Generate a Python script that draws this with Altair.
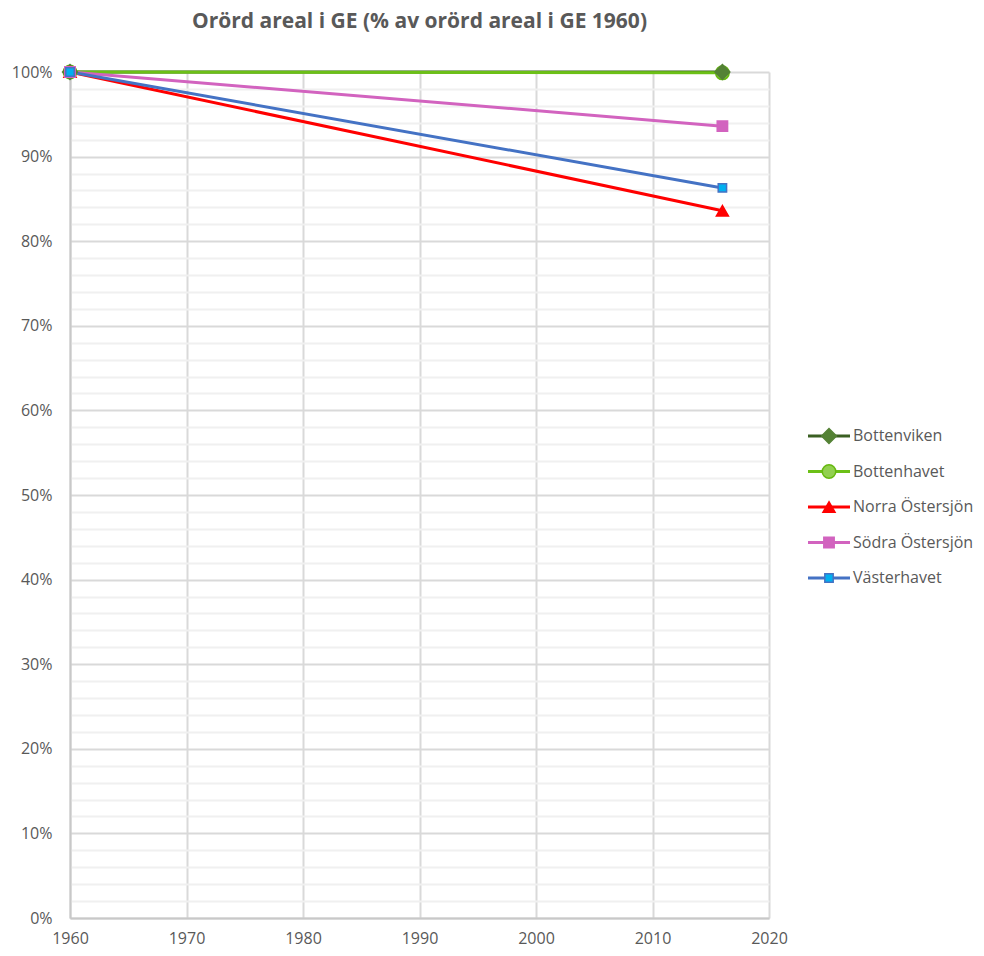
import altair as alt
import pandas as pd

years = [1960, 2016]
series_names = ["Bottenviken", "Bottenhavet", "Norra Östersjön", "Södra Östersjön", "Västerhavet"]
values = {
    "Bottenviken": [1.00, 1.00],
    "Bottenhavet": [1.00, 0.999],
    "Norra Östersjön": [1.00, 0.836],
    "Södra Östersjön": [1.00, 0.936],
    "Västerhavet": [1.00, 0.863],
}
line_colors = ["#3a5f22", "#6cc017", "#ff0000", "#d263bf", "#4472c4"]
fill_colors = ["#548235", "#92d050", "#ff0000", "#d263bf", "#00b0f0"]
stroke_colors = ["#548235", "#66b80f", "#ff0000", "#d263bf", "#4472c4"]
shapes = ["diamond", "circle", "triangle-up", "square", "square"]
sizes = [220, 70, 220, 160, 150]
legend_sizes = [75, 80, 90, 120, 110]
point_draw_order = [2, 1, 3, 4, 5]

x_ticks = [1960, 1970, 1980, 1990, 2000, 2010, 2020]
y_ticks = [i / 50 for i in range(51)]

rows = []
for i, name in enumerate(series_names):
    for yr, v in zip(years, values[name]):
        rows.append({"series": name, "year": yr, "value": v, "ord": point_draw_order[i]})
df = pd.DataFrame(rows)
leg = pd.DataFrame({"series": series_names, "idx": list(range(len(series_names)))})

FONT = "Open Sans"
GRAY = "#595959"

color_sc = alt.Scale(domain=series_names, range=line_colors)
fill_sc = alt.Scale(domain=series_names, range=fill_colors)
stroke_sc = alt.Scale(domain=series_names, range=stroke_colors)
shape_sc = alt.Scale(domain=series_names, range=shapes)
size_sc = alt.Scale(domain=series_names, range=sizes)
lsize_sc = alt.Scale(domain=series_names, range=legend_sizes)

x_enc = alt.X(
    "year:Q",
    scale=alt.Scale(domain=[1960, 2020], nice=False, zero=False),
    axis=alt.Axis(
        values=x_ticks, format="d", title=None, grid=True, gridColor="#d9d9d9",
        gridWidth=2, ticks=False, domainColor="#c8c8c8", domainWidth=2,
        labelColor=GRAY, labelFont=FONT, labelFontSize=16, labelPadding=12,
        labelOverlap=False, labelFlush=False,
    ),
)
y_enc = alt.Y(
    "value:Q",
    scale=alt.Scale(domain=[0, 1], nice=False),
    axis=alt.Axis(
        values=y_ticks, title=None, grid=True,
        gridColor={"condition": {"test": "round(datum.value*100) % 10 != 0", "value": "#f0f0f0"}, "value": "#d9d9d9"},
        gridWidth=2, ticks=False, domainColor="#c8c8c8", domainWidth=2,
        labelExpr="round(datum.value*100) % 10 == 0 ? format(datum.value, '.0%') : ''",
        labelColor=GRAY, labelFont=FONT, labelFontSize=16, labelPadding=18,
        labelOverlap=False, labelFlush=False,
    ),
)

base = alt.Chart(df).encode(x=x_enc, y=y_enc)
lines = base.mark_line(strokeWidth=3).encode(
    color=alt.Color("series:N", scale=color_sc, legend=None),
    detail="series:N",
)
points = base.mark_point(filled=True, strokeWidth=1.5, opacity=1).encode(
    fill=alt.Fill("series:N", scale=fill_sc, legend=None),
    stroke=alt.Stroke("series:N", scale=stroke_sc, legend=None),
    shape=alt.Shape("series:N", scale=shape_sc, legend=None),
    size=alt.Size("series:N", scale=size_sc, legend=None),
    order=alt.Order("ord:Q"),
)
main = alt.layer(lines, points).properties(
    width=699, height=846,
    title=alt.TitleParams(
        "Orörd areal i GE (% av orörd areal i GE 1960)", font=FONT, fontSize=21,
        fontWeight="bold", color=GRAY, offset=30, anchor="middle",
    ),
)

ly = alt.Y("idx:Q", scale=alt.Scale(domain=[0, 4], range=[364, 506], nice=False, zero=False), axis=None)
lbase = alt.Chart(leg).encode(y=ly)
leg_rule = lbase.mark_rule(strokeWidth=3).encode(
    x=alt.value(0), x2=alt.value(42),
    color=alt.Color("series:N", scale=color_sc, legend=None),
)
leg_pt = lbase.mark_point(filled=True, strokeWidth=1.5, opacity=1).encode(
    x=alt.value(21),
    fill=alt.Fill("series:N", scale=fill_sc, legend=None),
    stroke=alt.Stroke("series:N", scale=stroke_sc, legend=None),
    shape=alt.Shape("series:N", scale=shape_sc, legend=None),
    size=alt.Size("series:N", scale=lsize_sc, legend=None),
)
leg_txt = lbase.mark_text(align="left", baseline="middle", font=FONT, fontSize=16, color=GRAY).encode(
    x=alt.value(45), text="series:N",
)
legend_panel = alt.layer(leg_rule, leg_pt, leg_txt).properties(width=115, height=846)

chart = (
    alt.hconcat(main, legend_panel, spacing=39, bounds="flush")
    .resolve_scale(y="independent")
    .properties(padding={"left": 2, "top": 2, "right": 0, "bottom": 0})
    .configure(background="white")
    .configure_view(stroke="transparent")
)

chart.save("out.html", embed_options={"renderer": "svg", "actions": False})
